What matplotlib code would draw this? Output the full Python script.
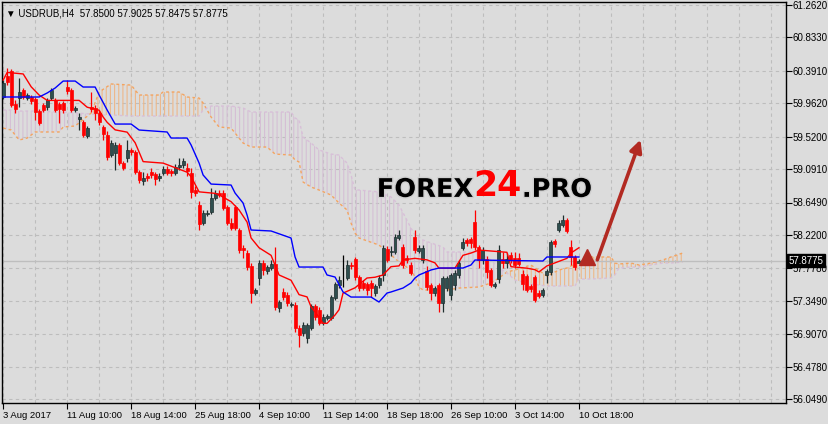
import numpy as np
import matplotlib.pyplot as plt
import matplotlib.patheffects as pe
from matplotlib.ticker import FixedLocator, MultipleLocator

plt.rcParams['font.family'] = ['Liberation Sans', 'DejaVu Sans']
plt.rcParams['hatch.linewidth'] = 0.8

# H4 candles, USDRUB
opens = [60.045, 60.322, 60.389, 59.952, 60.031, 60.137, 60.031, 60.045, 60.018, 59.859,
         59.939, 59.912, 60.031, 60.005, 59.952, 59.965, 60.177, 60.137, 59.873, 59.754,
         59.714, 59.529, 59.912, 59.899, 59.833, 59.648, 59.542, 59.277, 59.304, 59.410,
         59.171, 59.238, 59.344, 59.317, 59.052, 58.933, 58.999, 59.052, 59.026, 58.973,
         59.039, 59.092, 59.066, 59.039, 59.118, 59.145, 59.105, 59.039, 58.814, 58.616,
         58.377, 58.497, 58.523, 58.708, 58.774, 58.774, 58.589, 58.377, 58.589, 58.285,
         58.047, 57.981, 57.808, 57.451, 57.650, 57.848, 57.742, 57.782, 57.835, 57.253,
         57.465, 57.425, 57.293, 57.293, 56.988, 56.922, 56.856, 56.988, 57.279, 57.226,
         57.054, 57.121, 57.121, 57.385, 57.557, 57.650, 57.650, 57.822, 57.901, 57.663,
         57.584, 57.570, 57.584, 57.451, 57.557, 57.690, 58.033, 57.994, 57.994, 58.179,
         58.060, 57.914, 57.822, 58.192, 58.007, 57.888, 57.742, 57.557, 57.451, 57.557,
         57.319, 57.517, 57.425, 57.557, 57.690, 58.047, 58.153, 58.166, 58.391, 58.060,
         57.888, 57.901, 57.756, 57.544, 57.637, 57.901, 57.848, 57.954, 57.914, 57.914,
         57.703, 57.676, 57.544, 57.663, 57.451, 57.425, 57.690, 57.729, 58.139, 58.285,
         58.351, 58.417, 58.060, 57.928, 57.850]
highs = [60.270, 60.428, 60.415, 60.005, 60.296, 60.164, 60.098, 60.071, 60.045, 59.886,
         59.965, 60.031, 60.164, 60.031, 59.978, 59.992, 60.270, 60.164, 59.925, 59.833,
         59.740, 59.661, 60.111, 59.939, 59.873, 59.674, 59.595, 59.476, 59.450, 59.436,
         59.198, 59.476, 59.370, 59.344, 59.079, 59.052, 59.039, 59.105, 59.052, 59.039,
         59.132, 59.132, 59.092, 59.158, 59.238, 59.238, 59.171, 59.105, 58.867, 58.669,
         58.550, 58.550, 58.841, 58.814, 58.814, 58.814, 58.616, 58.444, 58.616, 58.311,
         58.086, 58.020, 57.848, 57.517, 57.888, 57.888, 57.822, 57.888, 58.060, 57.359,
         57.517, 57.465, 57.332, 57.332, 57.028, 57.068, 57.054, 57.306, 57.306, 57.266,
         57.173, 57.173, 57.425, 57.597, 57.676, 57.954, 57.888, 57.861, 57.928, 57.690,
         57.624, 57.597, 57.624, 57.570, 57.690, 58.086, 58.073, 58.073, 58.232, 58.285,
         58.100, 57.954, 57.861, 58.285, 58.086, 58.086, 57.808, 57.584, 57.544, 57.584,
         57.676, 57.676, 57.716, 57.756, 57.888, 58.179, 58.179, 58.192, 58.550, 58.086,
         58.060, 57.941, 57.782, 57.597, 58.086, 57.994, 57.981, 57.994, 57.994, 57.981,
         57.756, 57.703, 57.570, 57.690, 57.491, 57.517, 57.769, 58.153, 58.166, 58.417,
         58.483, 58.444, 58.153, 57.954, 57.9025]
lows = [60.018, 60.203, 59.912, 59.833, 59.912, 60.018, 60.005, 59.952, 59.740, 59.674,
        59.846, 59.873, 60.005, 59.846, 59.701, 59.833, 60.084, 59.846, 59.846, 59.608,
        59.515, 59.502, 59.846, 59.740, 59.674, 59.476, 59.211, 59.251, 59.079, 59.145,
        59.079, 59.185, 59.277, 59.026, 58.907, 58.880, 58.933, 58.973, 58.880, 58.933,
        59.013, 59.013, 58.999, 59.013, 59.079, 59.105, 58.999, 58.708, 58.735, 58.285,
        58.351, 58.470, 58.497, 58.682, 58.722, 58.550, 58.351, 58.285, 58.285, 57.981,
        57.914, 57.756, 57.319, 57.425, 57.557, 57.690, 57.703, 57.756, 57.226, 57.200,
        57.359, 57.279, 57.266, 56.935, 56.737, 56.882, 56.790, 56.962, 57.094, 57.028,
        57.028, 57.094, 57.094, 57.359, 57.517, 57.531, 57.624, 57.769, 57.624, 57.478,
        57.491, 57.425, 57.398, 57.412, 57.517, 57.610, 57.861, 57.941, 57.967, 58.153,
        57.782, 57.848, 57.690, 57.981, 57.981, 57.848, 57.491, 57.359, 57.412, 57.200,
        57.200, 57.478, 57.359, 57.491, 57.650, 58.020, 58.073, 58.047, 58.020, 57.782,
        57.835, 57.650, 57.531, 57.517, 57.584, 57.782, 57.782, 57.848, 57.782, 57.808,
        57.491, 57.465, 57.465, 57.332, 57.385, 57.398, 57.584, 57.690, 58.060, 58.258,
        58.325, 58.245, 57.822, 57.756, 57.8475]
closes = [60.230, 60.243, 59.939, 59.886, 60.111, 60.045, 60.071, 59.992, 59.846, 59.701,
          59.873, 60.005, 60.137, 59.873, 59.886, 59.873, 60.124, 59.873, 59.899, 59.780,
          59.542, 59.634, 59.886, 59.833, 59.714, 59.555, 59.251, 59.436, 59.410, 59.171,
          59.105, 59.344, 59.317, 59.052, 58.947, 58.973, 58.973, 59.013, 58.960, 58.999,
          59.092, 59.039, 59.039, 59.118, 59.145, 59.198, 59.066, 58.788, 58.774, 58.364,
          58.510, 58.510, 58.708, 58.774, 58.748, 58.576, 58.377, 58.311, 58.311, 58.020,
          58.020, 57.795, 57.451, 57.491, 57.848, 57.756, 57.795, 57.835, 57.266, 57.332,
          57.398, 57.319, 57.306, 56.988, 56.896, 57.028, 57.028, 57.279, 57.134, 57.054,
          57.134, 57.147, 57.398, 57.570, 57.624, 57.650, 57.822, 57.808, 57.663, 57.517,
          57.517, 57.491, 57.517, 57.544, 57.650, 58.047, 57.888, 58.007, 58.192, 58.219,
          57.822, 57.888, 57.716, 58.020, 58.047, 58.047, 57.531, 57.451, 57.517, 57.319,
          57.650, 57.650, 57.690, 57.716, 57.848, 58.126, 58.113, 58.113, 58.060, 57.888,
          58.020, 57.729, 57.557, 57.570, 58.020, 57.848, 57.901, 57.888, 57.822, 57.835,
          57.570, 57.491, 57.504, 57.359, 57.412, 57.491, 57.742, 58.126, 58.100, 58.377,
          58.417, 58.272, 57.928, 57.795, 57.8775]

# Ichimoku lines (bar index, price)
tenkan_idx = [0, 1, 5, 7, 9, 11, 19, 21, 24, 25, 26, 28, 31, 33, 35, 40, 41, 46, 47, 49,
              53, 54, 57, 59, 61, 62, 64, 67, 68, 69, 72, 74, 76, 77, 79, 80, 81, 83, 84, 85,
              88, 91, 93, 95, 97, 99, 100, 103, 106, 108, 109, 113, 115, 117, 119, 126, 127,
              131, 133, 134, 136, 138, 141, 142, 144]
tenkan_val = [60.27, 60.37, 60.35, 60.18, 60.07, 60.00, 60.00, 59.91, 59.87, 59.78, 59.71,
              59.61, 59.58, 59.44, 59.19, 59.17, 59.15, 59.05, 58.99, 58.79, 58.77, 58.75,
              58.66, 58.55, 58.39, 58.18, 58.05, 57.95, 57.82, 57.69, 57.62, 57.43, 57.40,
              57.27, 57.13, 57.05, 57.05, 57.16, 57.23, 57.45, 57.52, 57.65, 57.66, 57.69,
              57.80, 57.81, 57.89, 57.91, 57.89, 57.85, 57.78, 57.78, 57.95, 57.98, 58.02,
              57.99, 57.80, 57.78, 57.76, 57.73, 57.81, 57.85, 57.91, 57.98, 58.05]
kijun_idx = [0, 9, 11, 13, 15, 18, 20, 23, 24, 26, 28, 32, 34, 41, 42, 46, 47, 49, 50, 52,
             57, 58, 60, 61, 62, 67, 72, 73, 74, 80, 81, 83, 85, 87, 92, 94, 96, 97, 100,
             102, 103, 104, 107, 109, 115, 117, 118, 135, 136, 144]
kijun_val = [60.045, 60.045, 60.098, 60.164, 60.256, 60.256, 60.177, 60.177, 60.071, 59.873,
             59.687, 59.687, 59.608, 59.582, 59.502, 59.502, 59.410, 59.171, 59.013, 58.893,
             58.880, 58.774, 58.642, 58.483, 58.285, 58.272, 58.179, 57.928, 57.795, 57.795,
             57.690, 57.663, 57.465, 57.398, 57.398, 57.332, 57.451, 57.465, 57.517, 57.584,
             57.650, 57.690, 57.756, 57.782, 57.782, 57.822, 57.888, 57.875, 57.928, 57.928]
span_idx = [0, 2, 4, 6, 8, 14, 15, 18, 22, 24, 27, 32, 34, 39, 40, 44, 46, 49, 50, 52,
            54, 57, 60, 62, 66, 68, 72, 73, 74, 75, 77, 79, 82, 84, 86, 87, 88, 89, 94, 97,
            99, 102, 103, 104, 105, 107, 110, 111, 114, 119, 122, 124, 126, 128, 132, 136,
            139, 141, 143, 144, 147, 152, 153, 154, 157, 159, 162, 165, 167, 170]
span_a = [59.634, 59.608, 59.476, 59.502, 59.582, 59.582, 59.648, 59.661, 59.833, 60.111,
          60.217, 60.203, 60.071, 60.071, 60.111, 60.111, 60.045, 60.031, 59.965, 59.780,
          59.648, 59.634, 59.436, 59.383, 59.383, 59.290, 59.277, 59.211, 59.185, 58.920,
          58.854, 58.814, 58.748, 58.642, 58.550, 58.377, 58.245, 58.179, 58.086, 57.954,
          57.861, 57.756, 57.663, 57.531, 57.491, 57.491, 57.491, 57.491, 57.517, 57.531,
          57.584, 57.650, 57.729, 57.756, 57.822, 57.676, 57.756, 57.782, 57.835, 57.861,
          57.928, 57.928, 57.848, 57.835, 57.848, 57.822, 57.848, 57.888, 57.928, 57.981]
span_b = [59.873, 59.873, 59.859, 59.859, 59.859, 59.846, 59.846, 59.833, 59.820, 59.807,
          59.807, 59.793, 59.793, 59.793, 59.793, 59.793, 59.793, 59.793, 59.873, 59.925,
          59.925, 59.925, 59.899, 59.846, 59.846, 59.846, 59.846, 59.767, 59.740, 59.515,
          59.436, 59.344, 59.290, 59.277, 59.171, 59.013, 58.814, 58.814, 58.788, 58.722,
          58.616, 58.311, 58.219, 58.192, 58.153, 58.113, 58.060, 57.994, 57.994, 57.994,
          57.888, 57.782, 57.716, 57.624, 57.570, 57.544, 57.544, 57.544, 57.544, 57.637,
          57.637, 57.650, 57.690, 57.782, 57.795, 57.795, 57.822, 57.848, 57.848, 57.861]

x_labels = ["3 Aug 2017", "11 Aug 10:00", "18 Aug 14:00", "25 Aug 18:00", "4 Sep 10:00",
            "11 Sep 14:00", "18 Sep 18:00", "26 Sep 10:00", "3 Oct 14:00", "10 Oct 18:00"]
x_label_bars = [0, 16, 32, 48, 64, 80, 96, 112, 128, 144]
y_ticks = [61.262, 60.833, 60.391, 59.962, 59.520, 59.091, 58.649, 58.220, 57.778,
           57.349, 56.907, 56.478, 56.049]
last_price = 57.8775
# forecast arrow: (bar, price) start and end
arrow_start = (148.6, 57.89)
arrow_end = (159.4, 59.48)

bg = '#DCDCDC'
bull_col = '#2F4F4F'
bear_col = '#FF0000'

fig = plt.figure(figsize=(8.29, 4.24), dpi=100, facecolor=bg)
ax = fig.add_axes([2 / 829, 21 / 424, 784 / 829, 401 / 424], facecolor=bg)

o = np.array(opens)
h = np.array(highs)
l = np.array(lows)
c = np.array(closes)
idx = np.arange(len(o))

# ichimoku cloud
sx = np.array(span_idx)
sa = np.array(span_a)
sb = np.array(span_b)
ax.fill_between(sx, sa, sb, where=sa >= sb, interpolate=True, facecolor='none',
                edgecolor='#EDB88A', hatch='||||', linewidth=0, zorder=1)
ax.fill_between(sx, sa, sb, where=sa < sb, interpolate=True, facecolor='none',
                edgecolor='#D5BFD5', hatch='||||', linewidth=0, zorder=1)
ax.plot(sx, sa, color='#F4A460', lw=1, ls=(0, (2, 2)), zorder=2)
ax.plot(sx, sb, color='#D8BFD8', lw=1, ls=(0, (2, 2)), zorder=2)

# current price line
ax.axhline(last_price, color='#BEBEBE', lw=1, zorder=2)

# candles
up = c > o
down = c < o
doji = c == o
wick_cols = np.where(up, '#1E2E2E', np.where(down, bear_col, 'black'))
ax.vlines(idx, l, h, colors=wick_cols, lw=0.9, zorder=3)
body_bottom = np.minimum(o, c)
body_height = np.maximum(np.abs(c - o), 0.006)
ax.bar(idx[up], body_height[up], bottom=body_bottom[up], width=0.75,
       color=bull_col, edgecolor='#1E2E2E', linewidth=0.5, zorder=4)
ax.bar(idx[down], body_height[down], bottom=body_bottom[down], width=0.75,
       color=bear_col, edgecolor=bear_col, linewidth=0.5, zorder=4)
ax.bar(idx[doji], body_height[doji], bottom=body_bottom[doji], width=0.9,
       color='black', linewidth=0, zorder=4)

# tenkan / kijun
ax.plot(tenkan_idx, tenkan_val, color='#FF0000', lw=1, zorder=5)
ax.plot(kijun_idx, kijun_val, color='#0000FF', lw=1, zorder=5)

# forecast arrow
ax.annotate('', xy=arrow_end, xytext=arrow_start,
            arrowprops=dict(arrowstyle='-|>', color='#B22A22', lw=2.6,
                            mutation_scale=18, shrinkA=0, shrinkB=0), zorder=6)
ax.plot(arrow_start[0] - 2.6, arrow_start[1] + 0.04, marker='^', ms=11,
        color='#B22A22', zorder=6)

# watermark
t1 = ax.text(0.478, 0.514, 'FOREX', transform=ax.transAxes, fontsize=18.5,
             family='DejaVu Sans', fontweight='heavy', color='black', zorder=7,
             path_effects=[pe.withStroke(linewidth=2, foreground='#CFCFCF')])
t2 = ax.annotate('24', xycoords=t1, xy=(1, 0), va='bottom', fontsize=25,
                 family='DejaVu Sans', fontweight='heavy', color='#FF0000', zorder=7)
t3 = ax.annotate('.PRO', xycoords=t2, xy=(1, 0), va='bottom', fontsize=18.5,
                 family='DejaVu Sans', fontweight='heavy', color='black', zorder=7,
                 path_effects=[pe.withStroke(linewidth=2, foreground='#CFCFCF')])

# axes, ticks, grid
ax.set_xlim(-0.3, 195.8)
ax.set_ylim(55.996, 61.302)
ax.yaxis.tick_right()
ax.set_yticks(y_ticks)
ax.set_yticklabels(['%.4f' % v for v in y_ticks])
ax.xaxis.set_major_locator(FixedLocator(x_label_bars))
ax.set_xticklabels(x_labels)
ax.xaxis.set_minor_locator(MultipleLocator(8))
for lab in ax.get_xticklabels():
    lab.set_horizontalalignment('left')
ax.tick_params(axis='both', which='major', length=4, width=0.8,
               color='black', labelcolor='black', pad=2)
ax.tick_params(axis='x', labelsize=6.8)
ax.tick_params(axis='y', labelsize=7.0, pad=1)
ax.tick_params(axis='x', which='minor', length=0)
ax.grid(True, which='both', color='#BDBDBD', ls=(0, (3, 3)), lw=0.8)
ax.set_axisbelow(True)
for s in ax.spines.values():
    s.set_color('black')
    s.set_linewidth(1)

ax.text(0.005, 0.985, '\u25bc USDRUB,H4  57.8500 57.9025 57.8475 57.8775',
        transform=ax.transAxes, fontsize=7, va='top', ha='left', color='black', zorder=8)

ax.annotate('%.4f' % last_price, xy=(1, last_price), xycoords=('axes fraction', 'data'),
            xytext=(2, 0), textcoords='offset points', va='center', ha='left',
            fontsize=7.0, color='white', zorder=10, annotation_clip=False,
            bbox=dict(boxstyle='square,pad=0.15', fc='black', ec='black'))

fig.savefig('out.png', dpi=100, facecolor=bg)
